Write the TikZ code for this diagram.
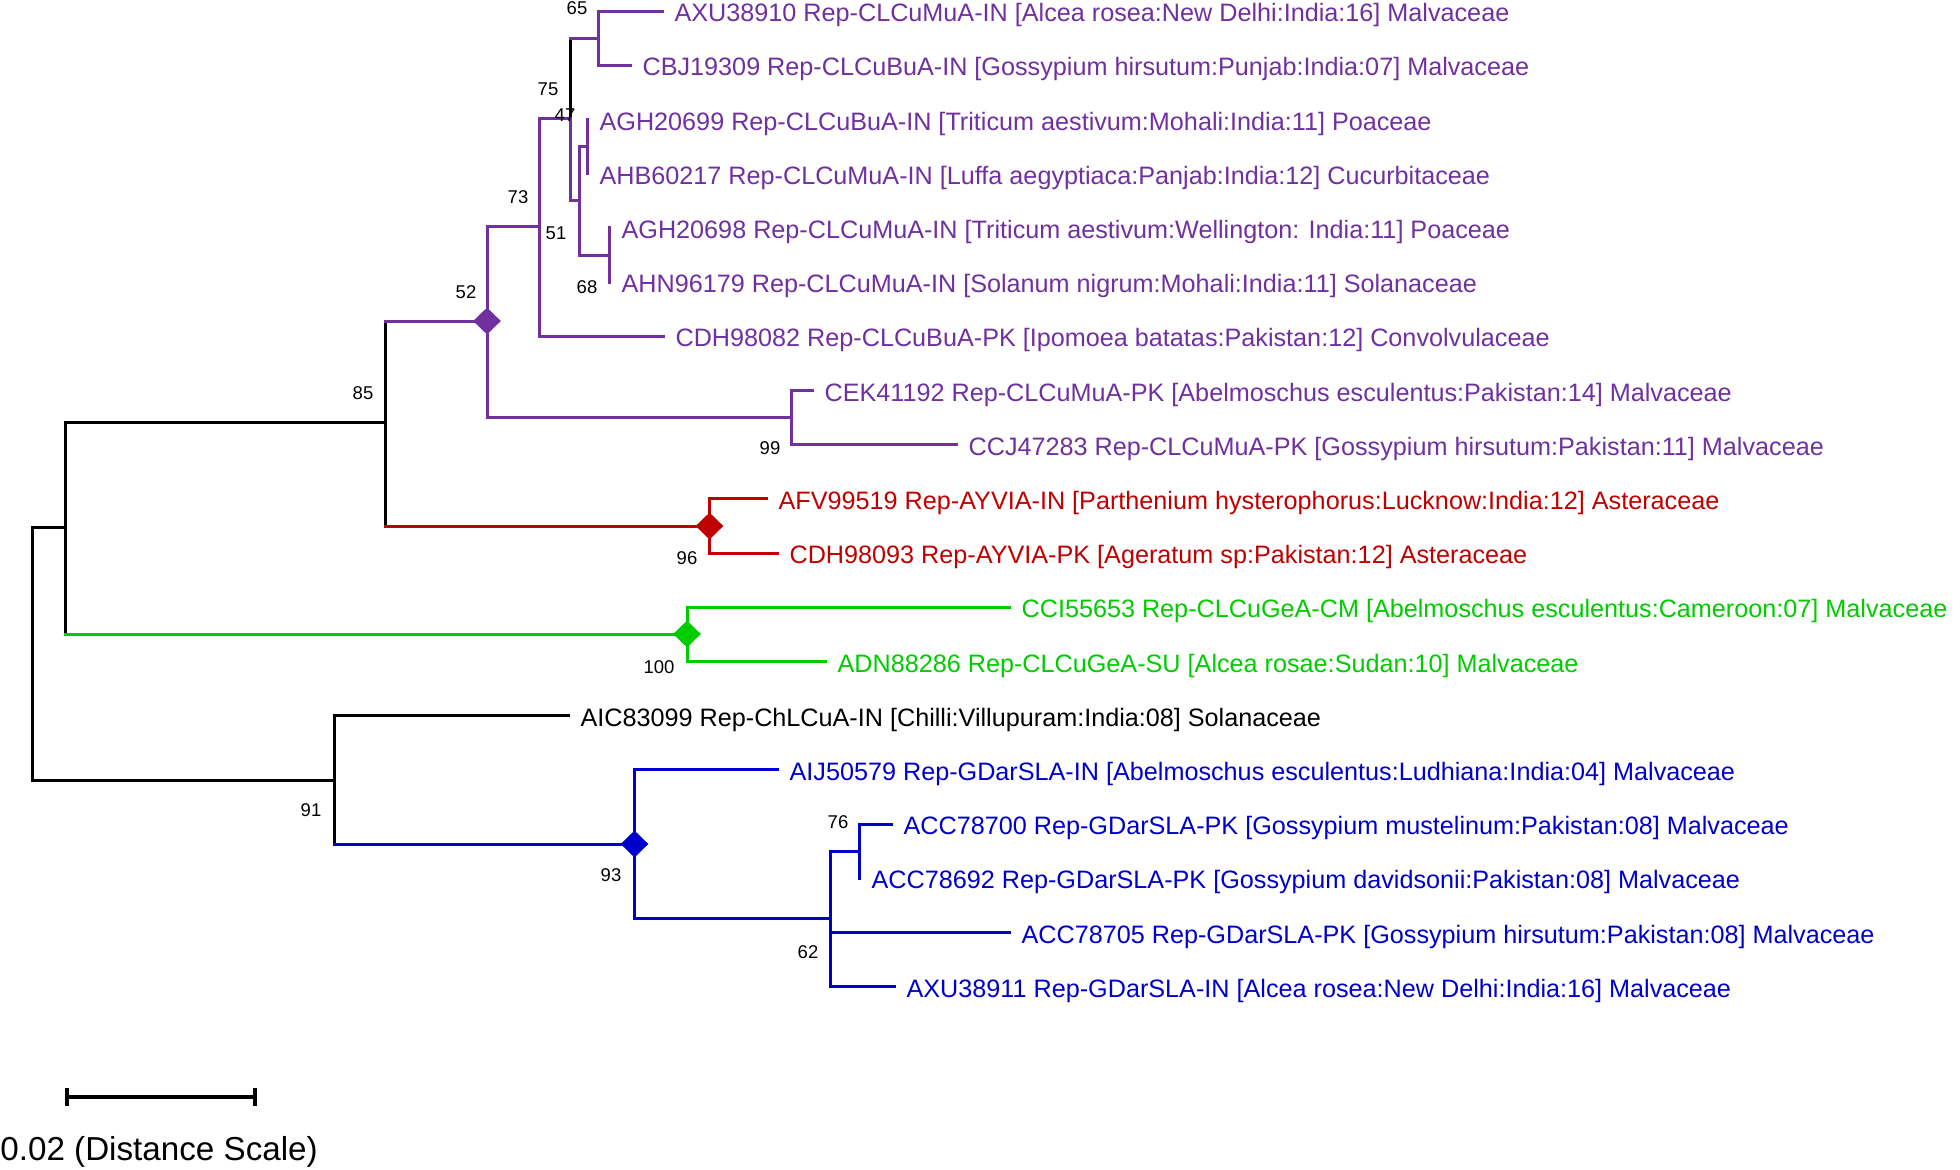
\documentclass[tikz,border=0pt]{standalone}
\usepackage{fontspec}
\setmainfont{Liberation Sans}
\usetikzlibrary{shapes.geometric}
\definecolor{pur}{RGB}{112,48,160}
\definecolor{rd}{RGB}{192,0,0}
\definecolor{gr}{RGB}{0,204,0}
\definecolor{bl}{RGB}{0,0,204}
\begin{document}
\begin{tikzpicture}[x=0.5pt,y=-0.5pt,
  br/.style={line width=1.5pt, line cap=rect},
  leaf/.style={anchor=base west, inner sep=0pt, xshift=6.1pt, yshift=-5.35pt, font=\fontsize{12.6}{15}\selectfont},
  boot/.style={inner sep=0pt, font=\fontsize{9.25}{11}\selectfont, text=black},
  dia/.style={diamond, draw=none, inner sep=0pt, minimum width=14pt, minimum height=13.6pt}
]
\useasboundingbox (0,0) rectangle (1960,1169);
% leaf tips
\coordinate (t0) at (662,11);
\coordinate (t1) at (630,65.2);
\coordinate (t2) at (587,119.4);
\coordinate (t3) at (587,173.6);
\coordinate (t4) at (609,227.8);
\coordinate (t5) at (609,282);
\coordinate (t6) at (663,336.2);
\coordinate (t7) at (812,390.4);
\coordinate (t8) at (956,444.6);
\coordinate (t9) at (766,498.8);
\coordinate (t10) at (777,553);
\coordinate (t11) at (1009,607.2);
\coordinate (t12) at (825,661.4);
\coordinate (t13) at (568,715.6);
\coordinate (t14) at (777,769.8);
\coordinate (t15) at (891,824);
\coordinate (t16) at (859,878.2);
\coordinate (t17) at (1009,932.4);
\coordinate (t18) at (894,986.6);
% internal nodes
\coordinate (n65) at (598,38);
\coordinate (nZ) at (587,146.5);
\coordinate (nW) at (609,255);
\coordinate (nY) at (579.3,200);
\coordinate (nX) at (570,118);
\coordinate (nA) at (539.5,226);
\coordinate (n99) at (791,417.5);
\coordinate (n52) at (487,321);
\coordinate (nR) at (709.5,526);
\coordinate (n85) at (385,422);
\coordinate (nG) at (687,634);
\coordinate (nB) at (65,527);
\coordinate (n76) at (859,851);
\coordinate (n62) at (830,918);
\coordinate (n93) at (634.5,844);
\coordinate (n91) at (334.5,780);
\coordinate (root) at (32,653);
% black branches
\draw[br] (nB -| root) -- (n91 -| root);
\draw[br] (nB -| root) -- (nB);
\draw[br] (n91 -| root) -- (n91);
\draw[br] (n85 -| nB) -- (nG -| nB);
\draw[br] (n85 -| nB) -- (n85);
\draw[br] (n52 -| n85) -- (nR -| n85);
\draw[br] (t13 -| n91) -- (n93 -| n91);
\draw[br] (t13 -| n91) -- (t13);
\draw[br] (n65 -| nX) -- (nX);
% purple
\draw[br,pur] (n52 -| n85) -- (n52);
\draw[br,pur] (nA) -| (n52) |- (n99);
\draw[br,pur] (t7) -| (n99) |- (t8);
\draw[br,pur] (nX) -| (nA) |- (t6);
\draw[br,pur] (nX) |- (nY);
\draw[br,pur] (n65 -| nX) -- (n65);
\draw[br,pur] (t0) -| (n65) |- (t1);
\draw[br,pur] (nZ) -| (nY) |- (nW);
\draw[br,pur] (t2) -| (nZ) |- (t3);
\draw[br,pur] (t4) -| (nW) |- (t5);
% red
\draw[br,rd] (nR -| n85) -- (nR);
\draw[br,rd] (t9) -| (nR) |- (t10);
% green
\draw[br,gr] (nG -| nB) -- (nG);
\draw[br,gr] (t11) -| (nG) |- (t12);
% blue
\draw[br,bl] (n93 -| n91) -- (n93);
\draw[br,bl] (t14) -| (n93) |- (n62);
\draw[br,bl] (n76) -| (n62) |- (t18);
\draw[br,bl] (t17 -| n62) -- (t17);
\draw[br,bl] (t15) -| (n76) |- (t16);
% diamonds
\node[dia, fill=pur] (d52) at (n52) {};
\node[dia, fill=rd] (dR) at (nR) {};
\node[dia, fill=gr] (dG) at (nG) {};
\node[dia, fill=bl] (d93) at (n93) {};
% bootstrap values
\node[boot] (b65) at (577,8) {65};
\node[boot] (b75) at (548,89) {75};
\node[boot] (b47) at (565,115) {47};
\node[boot] (b73) at (518,197) {73};
\node[boot] (b51) at (556,233) {51};
\node[boot] (b68) at (587,287) {68};
\node[boot] (b52) at (466,292) {52};
\node[boot] (b85) at (363,393) {85};
\node[boot] (b99) at (770,448) {99};
\node[boot] (b96) at (687,558) {96};
\node[boot] (b100) at (659,667) {100};
\node[boot] (b91) at (311,810) {91};
\node[boot] (b93) at (611,875) {93};
\node[boot] (b76) at (838,822) {76};
\node[boot] (b62) at (808,952) {62};
% leaf labels
\node[leaf,text=pur] (l0) at (t0) {AXU38910 Rep-CLCuMuA-IN [Alcea rosea:New Delhi:India:16] Malvaceae};
\node[leaf,text=pur] (l1) at (t1) {CBJ19309 Rep-CLCuBuA-IN [Gossypium hirsutum:Punjab:India:07] Malvaceae};
\node[leaf,text=pur] (l2) at (t2) {AGH20699 Rep-CLCuBuA-IN [Triticum aestivum:Mohali:India:11] Poaceae};
\node[leaf,text=pur] (l3) at (t3) {AHB60217 Rep-CLCuMuA-IN [Luffa aegyptiaca:Panjab:India:12] Cucurbitaceae};
\node[leaf,text=pur] (l4) at (t4) {AGH20698 Rep-CLCuMuA-IN [Triticum aestivum:Wellington: India:11] Poaceae};
\node[leaf,text=pur] (l5) at (t5) {AHN96179 Rep-CLCuMuA-IN [Solanum nigrum:Mohali:India:11] Solanaceae};
\node[leaf,text=pur] (l6) at (t6) {CDH98082 Rep-CLCuBuA-PK [Ipomoea batatas:Pakistan:12] Convolvulaceae};
\node[leaf,text=pur] (l7) at (t7) {CEK41192 Rep-CLCuMuA-PK [Abelmoschus esculentus:Pakistan:14] Malvaceae};
\node[leaf,text=pur] (l8) at (t8) {CCJ47283 Rep-CLCuMuA-PK [Gossypium hirsutum:Pakistan:11] Malvaceae};
\node[leaf,text=rd] (l9) at (t9) {AFV99519 Rep-AYVIA-IN [Parthenium hysterophorus:Lucknow:India:12] Asteraceae};
\node[leaf,text=rd] (l10) at (t10) {CDH98093 Rep-AYVIA-PK [Ageratum sp:Pakistan:12] Asteraceae};
\node[leaf,text=gr] (l11) at (t11) {CCI55653 Rep-CLCuGeA-CM [Abelmoschus esculentus:Cameroon:07] Malvaceae};
\node[leaf,text=gr] (l12) at (t12) {ADN88286 Rep-CLCuGeA-SU [Alcea rosae:Sudan:10] Malvaceae};
\node[leaf,text=black] (l13) at (t13) {AIC83099 Rep-ChLCuA-IN [Chilli:Villupuram:India:08] Solanaceae};
\node[leaf,text=bl] (l14) at (t14) {AIJ50579 Rep-GDarSLA-IN [Abelmoschus esculentus:Ludhiana:India:04] Malvaceae};
\node[leaf,text=bl] (l15) at (t15) {ACC78700 Rep-GDarSLA-PK [Gossypium mustelinum:Pakistan:08] Malvaceae};
\node[leaf,text=bl] (l16) at (t16) {ACC78692 Rep-GDarSLA-PK [Gossypium davidsonii:Pakistan:08] Malvaceae};
\node[leaf,text=bl] (l17) at (t17) {ACC78705 Rep-GDarSLA-PK [Gossypium hirsutum:Pakistan:08] Malvaceae};
\node[leaf,text=bl] (l18) at (t18) {AXU38911 Rep-GDarSLA-IN [Alcea rosea:New Delhi:India:16] Malvaceae};
% scale bar
\coordinate (s0) at (67,1097);
\coordinate (s1) at (255,1097);
\draw[line width=1.6pt] (s0) -- (s1);
\draw[line width=1.6pt] ([yshift=4.3pt]s0) -- ([yshift=-4.3pt]s0);
\draw[line width=1.6pt] ([yshift=4.3pt]s1) -- ([yshift=-4.3pt]s1);
\node[anchor=base west, inner sep=0pt, font=\fontsize{16.6}{20}\selectfont] (scl) at (0,1160) {0.02 (Distance Scale)};
\end{tikzpicture}
\end{document}
